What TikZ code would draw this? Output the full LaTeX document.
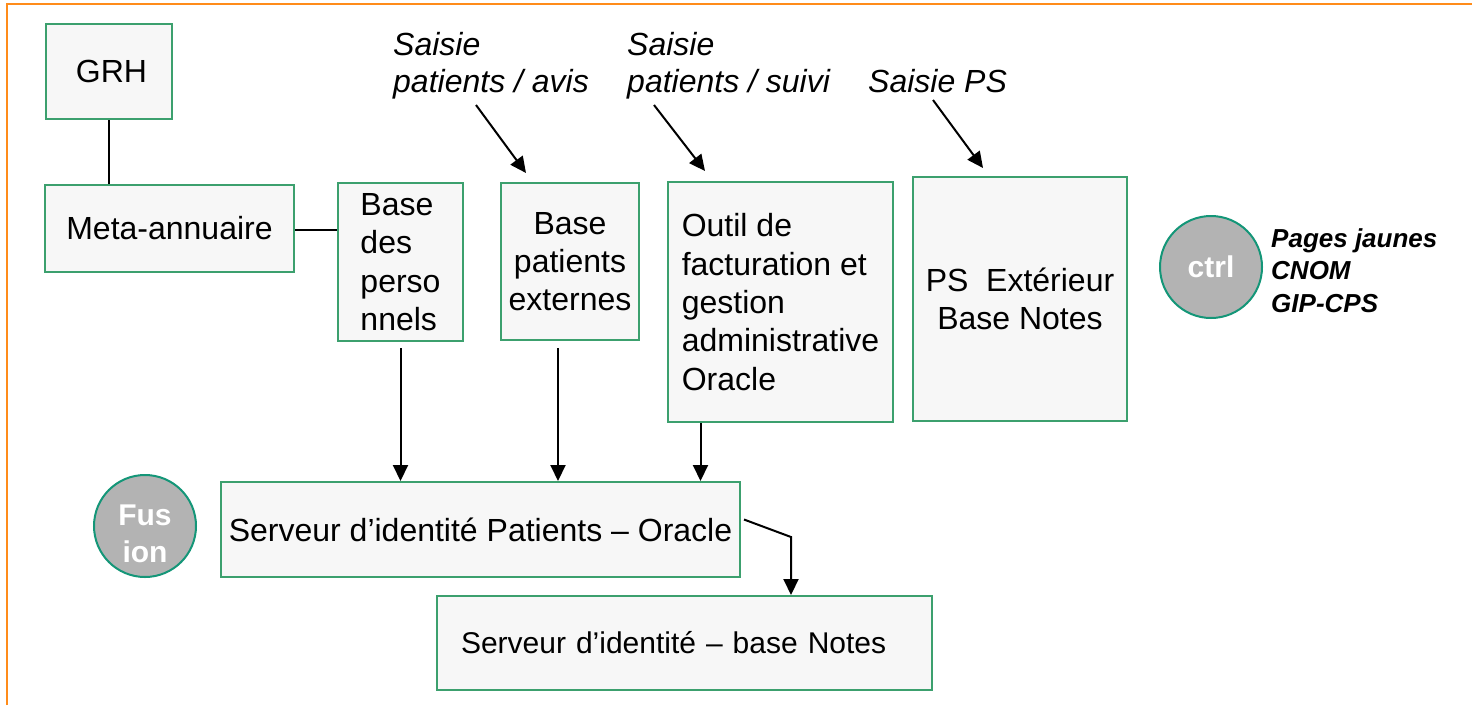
\documentclass[tikz,border=0pt]{standalone}
\usepackage{fontspec}
\setmainfont{Liberation Sans}
\usetikzlibrary{arrows.meta}
\definecolor{boxgreen}{RGB}{60,160,110}
\definecolor{boxfill}{RGB}{247,247,247}
\definecolor{circfill}{RGB}{179,179,179}
\definecolor{circteal}{RGB}{20,150,120}
\definecolor{frameorange}{RGB}{255,140,26}
\begin{document}
\begin{tikzpicture}[x=1pt,y=-1pt,
 box/.style={draw=boxgreen, fill=boxfill, line width=2pt, inner sep=0pt, font=\fontsize{32}{38.3}\selectfont},
 circ/.style={circle, draw=circteal, fill=circfill, line width=2pt, inner sep=0pt, minimum size=102pt},
 circtext/.style={inner sep=0pt, text=white, font=\bfseries\fontsize{30}{37}\selectfont, align=center},
 lab/.style={inner sep=0pt, font=\itshape\fontsize{32}{37}\selectfont, align=left, anchor=north west},
 side/.style={inner sep=0pt, font=\bfseries\itshape\fontsize{26}{32.5}\selectfont, align=left, anchor=north west},
 conn/.style={line width=2pt},
 arr/.style={line width=2pt, -{Triangle[length=16pt,width=15pt]}},
]
\useasboundingbox (0,0) rectangle (1472,705);
\draw[frameorange, line width=2.5pt] (7,705) -- (7,4) -- (1472,4);

\node[box, minimum width=126pt, minimum height=95pt] (grh) at (109,71.5) {\hspace{5pt}GRH};
\node[box, minimum width=249pt, minimum height=87pt] (meta) at (169.5,228.5) {Meta-annuaire};
\node[box, minimum width=125pt, minimum height=158pt, align=left] (basepers) at (400.5,262) {Base\\des\\perso\\nnels};
\node[box, minimum width=138pt, minimum height=157pt, align=center] (basepat) at (570,261.5) {Base\\patients\\externes};
\node[box, minimum width=225pt, minimum height=240pt, align=left] (outil) at (780.5,302) {Outil de\\facturation et\\gestion\\administrative\\Oracle};
\node[box, minimum width=214pt, minimum height=244pt, align=center] (ps) at (1020,299) {PS\ \ Extérieur\\Base Notes};
\node[box, minimum width=519pt, minimum height=95pt] (srvp) at (480.5,529.5) {Serveur d’identité Patients – Oracle};
\node[box, minimum width=495pt, minimum height=94pt, text width=447pt, inner xsep=24pt, align=left, font=\fontsize{30}{36}\selectfont] (srvn) at (684.5,643) {Serveur d’identité – base Notes};

\node[circ] (ctrl) at (1211,267) {};
\node[circtext] (ctrltxt) at (1211,267) {ctrl};
\node[circ] (fusion) at (145,526) {};
\node[circtext] (fusiontxt) at (145,534) {Fus\\ion};

\node[side] (annu) at (1271,228) {Pages jaunes\\CNOM\\GIP-CPS};

\node[lab] (savis) at (393,32) {Saisie\\patients / avis};
\node[lab] (ssuivi) at (627,32) {Saisie\\patients / suivi};
\node[lab] (sps) at (868,69) {Saisie PS};

\coordinate (avisA) at (476,105);
\coordinate (avisB) at (526,173);
\coordinate (suiviA) at (654,105);
\coordinate (suiviB) at (705,171);
\coordinate (psA) at (933,100);
\coordinate (psB) at (983,168);
\draw[arr] (avisA) -- (avisB);
\draw[arr] (suiviA) -- (suiviB);
\draw[arr] (psA) -- (psB);

\draw[conn] (grh.south) -- (grh.south |- meta.north);
\draw[conn] ([yshift=-1.5pt]meta.east) -- ([yshift=-1.5pt]basepers.west |- meta.east);

\draw[arr] ([yshift=-6pt]basepers.south) -- (basepers.south |- srvp.north);
\draw[arr] ([xshift=-12pt,yshift=-7pt]basepat.south) -- ([xshift=-12pt]basepat.south |- srvp.north);
\draw[arr] ([xshift=-80pt]outil.south) -- ([xshift=-80pt]outil.south |- srvp.north);

\coordinate (bend) at (791,537);
\draw[arr] ([xshift=3pt,yshift=10pt]srvp.east) -- (bend) -- (bend |- srvn.north);
\end{tikzpicture}
\end{document}
